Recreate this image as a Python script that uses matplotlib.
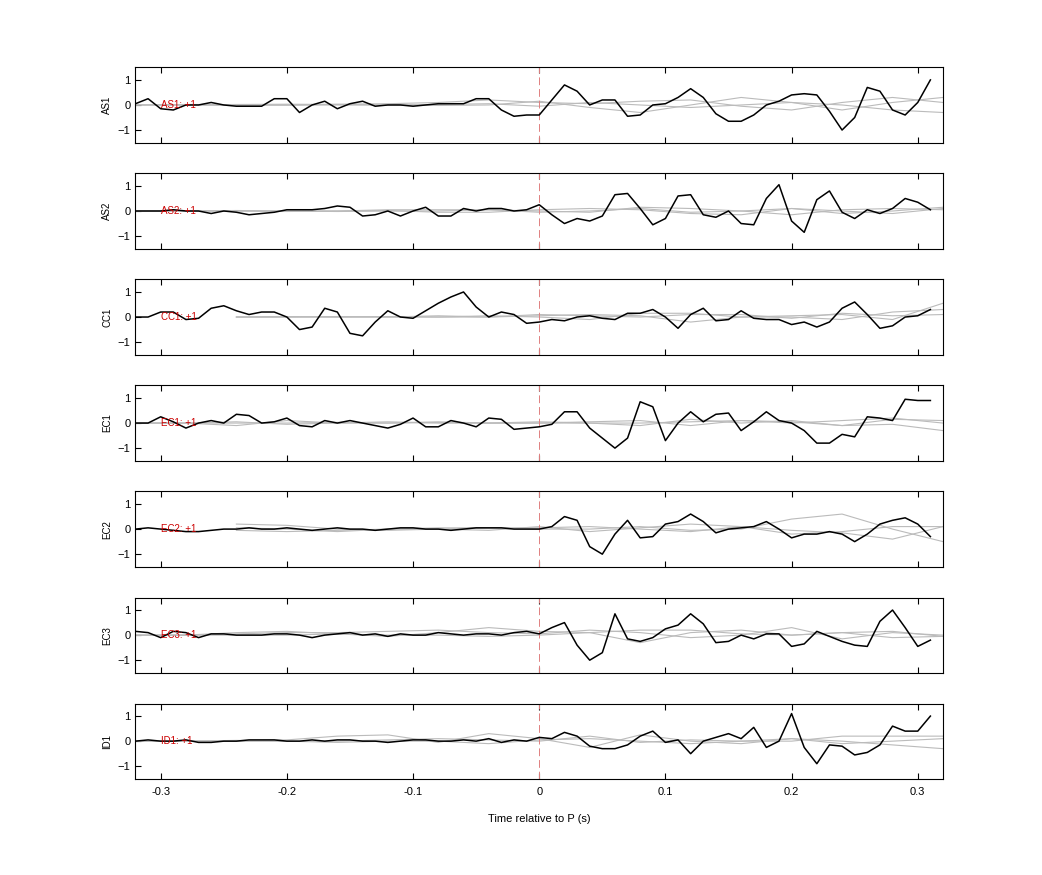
import numpy as np
import matplotlib
matplotlib.use("Agg")
import matplotlib.pyplot as plt

plt.rcParams['font.family'] = ['Liberation Sans', 'DejaVu Sans']

stations = ["AS1", "AS2", "CC1", "EC1", "EC2", "EC3", "ID1"]
t = np.round(np.arange(-0.32, 0.315, 0.01), 2)
tg = np.round(np.arange(-0.32, 0.33, 0.04), 2)

black = {
"AS1": [0.05,0.25,-0.15,-0.2,0.0,0.0,0.1,0.0,-0.05,-0.05,-0.05,0.25,0.25,-0.3,0.0,0.15,-0.15,0.05,0.15,-0.05,0.0,0.0,-0.05,0.0,0.05,0.05,0.05,0.25,0.25,-0.2,-0.45,-0.4,
        -0.4,0.2,0.8,0.55,0.0,0.2,0.2,-0.45,-0.4,0.0,0.05,0.3,0.65,0.3,-0.35,-0.65,-0.65,-0.4,0.0,0.15,0.4,0.45,0.4,-0.25,-1.0,-0.5,0.7,0.55,-0.2,-0.4,0.1,1.0],
"AS2": [0.0,0.0,0.0,0.05,0.0,0.0,-0.1,0.0,-0.05,-0.15,-0.1,-0.05,0.05,0.05,0.05,0.1,0.2,0.15,-0.2,-0.15,0.0,-0.2,0.0,0.15,-0.2,-0.2,0.1,0.0,0.1,0.1,0.0,0.05,
        0.25,-0.15,-0.5,-0.3,-0.4,-0.2,0.65,0.7,0.1,-0.55,-0.3,0.6,0.65,-0.15,-0.25,0.0,-0.5,-0.55,0.5,1.05,-0.4,-0.85,0.45,0.8,-0.05,-0.3,0.05,-0.1,0.1,0.5,0.35,0.05],
"CC1": [0.0,0.0,0.2,0.2,-0.1,-0.05,0.35,0.45,0.25,0.1,0.2,0.2,0.0,-0.5,-0.4,0.35,0.2,-0.65,-0.75,-0.2,0.25,0.0,-0.05,0.25,0.55,0.8,1.0,0.4,0.0,0.2,0.1,-0.25,
        -0.2,-0.1,-0.15,0.0,0.05,-0.05,-0.1,0.15,0.15,0.3,0.0,-0.45,0.1,0.35,-0.15,-0.1,0.25,-0.05,-0.1,-0.1,-0.3,-0.2,-0.4,-0.2,0.35,0.6,0.1,-0.45,-0.35,0.0,0.05,0.3],
"EC1": [0.0,0.0,0.25,0.05,-0.2,0.0,0.1,0.0,0.35,0.3,0.0,0.05,0.2,-0.1,-0.15,0.1,0.0,0.1,0.0,-0.1,-0.2,-0.05,0.2,-0.15,-0.15,0.1,0.0,-0.15,0.2,0.15,-0.25,-0.2,
        -0.15,-0.05,0.45,0.45,-0.2,-0.6,-1.0,-0.6,0.85,0.65,-0.7,0.0,0.45,0.05,0.35,0.4,-0.3,0.05,0.45,0.1,0.0,-0.3,-0.8,-0.8,-0.45,-0.55,0.25,0.2,0.1,0.95,0.9,0.9],
"EC2": [0.0,0.05,0.0,-0.05,-0.1,-0.1,-0.05,0.0,0.0,0.05,0.0,0.0,0.05,0.0,-0.05,0.0,0.05,0.0,0.0,-0.05,0.0,0.05,0.05,0.0,0.0,-0.05,0.0,0.05,0.05,0.05,0.0,0.0,
        0.0,0.1,0.5,0.35,-0.7,-1.0,-0.2,0.35,-0.35,-0.3,0.2,0.3,0.6,0.3,-0.15,0.0,0.05,0.1,0.3,0.0,-0.35,-0.2,-0.2,-0.1,-0.2,-0.5,-0.2,0.2,0.35,0.45,0.2,-0.3],
"EC3": [0.15,0.1,-0.1,0.15,0.1,-0.1,0.05,0.05,0.0,0.0,0.0,0.05,0.05,0.0,-0.1,0.0,0.05,0.1,0.0,0.05,-0.05,0.05,0.0,0.0,0.1,0.05,0.0,0.05,0.05,0.0,0.1,0.15,
        0.05,0.3,0.5,-0.4,-1.0,-0.7,0.85,-0.15,-0.25,-0.1,0.25,0.4,0.85,0.45,-0.3,-0.25,0.0,-0.15,0.05,0.05,-0.45,-0.35,0.15,-0.05,-0.25,-0.4,-0.45,0.55,1.0,0.3,-0.45,-0.2],
"ID1": [0.0,0.05,0.0,0.0,0.05,-0.05,-0.05,0.0,0.0,0.05,0.05,0.05,0.0,0.0,0.05,0.0,0.05,0.05,0.0,0.0,-0.05,0.0,0.05,0.05,0.0,0.0,0.05,0.0,0.1,-0.05,0.05,0.0,
        0.15,0.1,0.35,0.2,-0.2,-0.3,-0.3,-0.15,0.2,0.4,-0.05,0.05,-0.5,0.0,0.15,0.3,0.1,0.55,-0.25,0.0,1.1,-0.25,-0.9,-0.15,-0.2,-0.55,-0.45,-0.15,0.6,0.4,0.4,1.0],
}

gray = {
"AS1": [[0,0,0.02,0.03,0.02,0,-0.02,0,0.15,-0.1,-0.3,0,0.3,0.1,-0.2,0.1,0.3],
        [0,0,-0.02,0,0.03,0.05,0.1,0.2,0.1,0.05,0.15,0.2,-0.05,-0.2,0.1,0.3,0.1],
        [0,0.02,0.01,-0.01,0,0,0.02,0.05,-0.05,0.1,0,-0.1,0,0.1,0,-0.2,-0.3]],
"AS2": [[0,0,0.02,0,0,0.02,-0.05,-0.05,0.05,0.1,0.05,-0.1,-0.15,0.1,0,-0.1,0.1],
        [0,0,0,-0.02,0,0.05,0.05,0.05,0,-0.05,0.15,0.1,0,-0.15,0.05,0.1,0.05],
        [0,0,0,0,-0.02,0,0,0.05,-0.05,0,0.1,-0.05,0,0.1,-0.1,0,0.15]],
"CC1": [[np.nan,np.nan,0,0,0,0,0,0,0.05,0.1,0.05,-0.2,0,0,-0.1,0.2,0.3],
        [np.nan,np.nan,0,0.02,0,0.02,0,0.05,0,-0.1,0.15,0.15,0,0.05,0.1,-0.1,0.55],
        [np.nan,np.nan,0,0,0.02,0,0.05,0,0.1,0.05,0,0.1,0.1,-0.05,0.15,0.05,0.1]],
"EC1": [[0,0,-0.1,0.1,0,0,0.05,0,0,0.05,0.1,-0.1,0.1,0.05,-0.1,0.15,0.1],
        [0,0,0.05,-0.05,0,0.05,0,0,0,0,-0.1,0.15,0,0.1,-0.1,-0.05,-0.3],
        [0,0,0,0,0.03,0,0.02,0,0.05,0,0,0.05,0.1,0,0.1,0.2,0]],
"EC2": [[np.nan,np.nan,0.2,0.15,0,-0.05,0,0.05,0,0,0.1,-0.05,0,0.4,0.6,0,-0.5],
        [np.nan,np.nan,-0.05,-0.1,-0.05,0,0.05,0.05,0.05,0.1,0,-0.1,0.1,-0.05,-0.15,-0.4,0.1],
        [np.nan,np.nan,0.05,0,-0.1,0,0,-0.05,0.1,-0.1,0.05,0.2,0.1,-0.2,-0.1,0.1,0.1]],
"EC3": [[0,0,0.1,0.15,0.05,-0.05,0.1,0.3,0.15,0.1,-0.3,0.1,0.2,0,0.1,0.15,-0.05],
        [0,0,0.05,0.1,0.1,0.15,0.2,0.1,0.05,0.2,0.1,-0.1,0,0.3,-0.15,0.1,0],
        [0,0,0,0,0.05,0,0,-0.05,0,0.1,0.2,0.2,0.05,0,0.1,-0.1,-0.05]],
"ID1": [[0,0,0,0.05,0.2,0.25,-0.05,0.3,0.1,-0.25,0.25,0,-0.1,0.1,0,-0.15,-0.3],
        [0,0,0.03,0,0,0.05,0.1,0.05,0,0.2,-0.05,0.05,0,0,0.2,0.2,0.2],
        [0,0,0,0,-0.05,0,0,-0.1,0.05,0.1,0,-0.1,0,0.1,-0.1,0,0.1]],
}

fig, axes = plt.subplots(7, 1, figsize=(10.42, 8.75), dpi=100, sharex=True)
fig.subplots_adjust(left=0.13, right=0.905, top=0.923, bottom=0.11, hspace=0.41)
for ax, st in zip(axes, stations):
    for g in gray[st]:
        ax.plot(tg, g, color='#bbbbbb', lw=0.8)
    ax.axvline(0, color='#e08080', ls=(0, (8, 4)), lw=0.7)
    ax.plot(t, black[st], color='black', lw=1.1)
    ax.text(-0.3, 0.0, f"{st}: +1", color='#cc0000', fontsize=7, va='center', ha='left')
    ax.set_ylim(-1.5, 1.5)
    ax.set_xlim(-0.32, 0.32)
    ax.set_yticks([-1, 0, 1])
    ax.set_xticks([-0.3, -0.2, -0.1, 0, 0.1, 0.2, 0.3])
    ax.tick_params(direction='in', top=True, right=False, labelsize=8, length=4)
    ax.tick_params(axis='x', pad=6)
    ax.set_ylabel(st, fontsize=7)
axes[-1].set_xticklabels(["-0.3", "-0.2", "-0.1", "0", "0.1", "0.2", "0.3"])
axes[-1].set_xlabel("Time relative to P (s)", fontsize=8, labelpad=12)
fig.savefig("out.png")
